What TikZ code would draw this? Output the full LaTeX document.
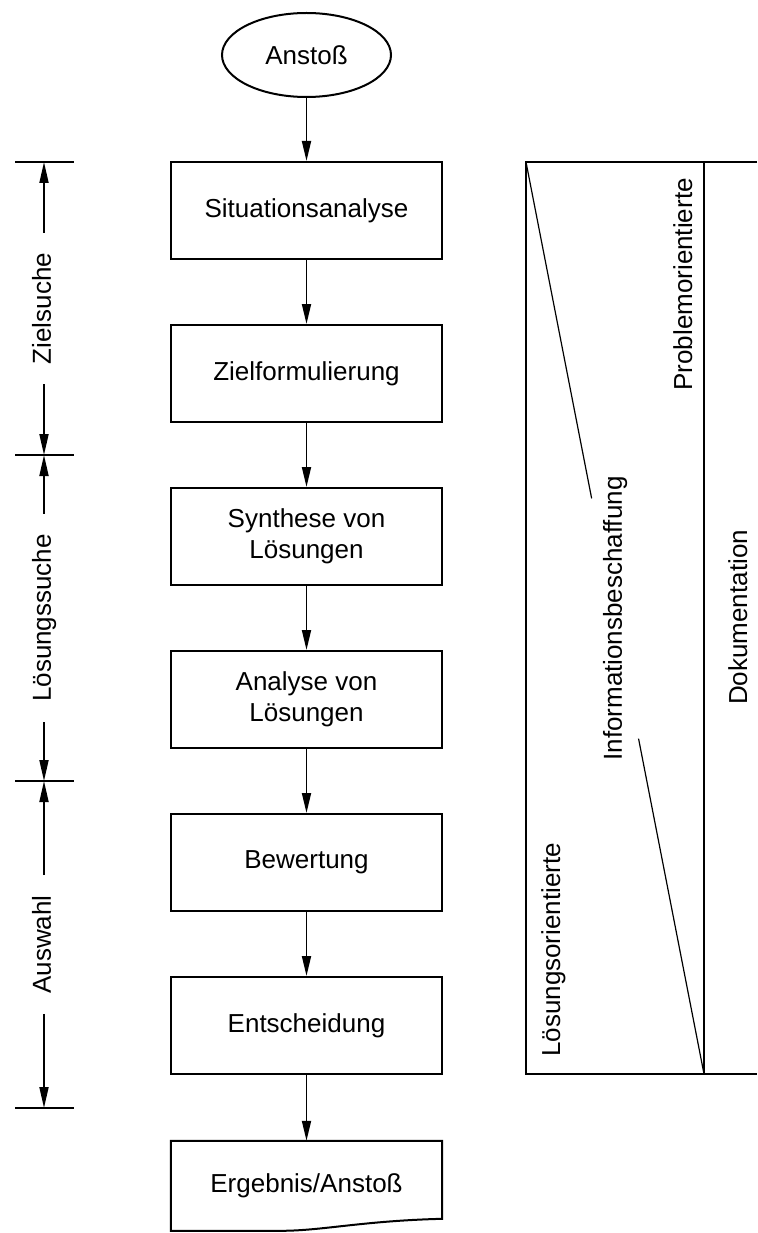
\documentclass[tikz,border=0pt]{standalone}
\usepackage{fontspec}
\setmainfont{Liberation Sans}
\usetikzlibrary{arrows.meta,shapes.geometric,calc}

\begin{document}
\begin{tikzpicture}[x=1pt,y=-1pt,
  every node/.style={font=\fontsize{26}{31}\selectfont},
  flowbox/.style={draw, line width=2pt, minimum width=271pt, minimum height=97pt,
    align=center, inner sep=0pt},
  flow/.style={line width=1.8pt, -{Triangle[length=20pt,width=9pt]}},
  dimarrow/.style={line width=1.8pt, -{Triangle[length=21pt,width=9pt]}},
  ticksline/.style={line width=1.8pt},
  dimlabel/.style={rotate=90, inner xsep=20pt, inner ysep=0pt,
    text height=19pt, text depth=5.5pt},
  framel/.style={line width=1.6pt},
  diag/.style={line width=1.2pt},
  vlabel/.style={rotate=90, inner sep=0pt}
]
\useasboundingbox (0,0) rectangle (757,1233);

% main flow
\node[ellipse, draw, line width=2pt, minimum width=169pt, minimum height=84pt,
  inner sep=0pt] (start) at (306.5,55) {Anstoß};
\node[flowbox] (s1) at (306.5,210.5) {Situationsanalyse};
\node[flowbox] (s2) at (306.5,373.5) {Zielformulierung};
\node[flowbox] (s3) at (306.5,536.5) {Synthese von\\Lösungen};
\node[flowbox] (s4) at (306.5,699.5) {Analyse von\\Lösungen};
\node[flowbox] (s5) at (306.5,862.5) {Bewertung};
\node[flowbox] (s6) at (306.5,1025.5) {Entscheidung};
\node[minimum width=271pt, minimum height=90pt, inner sep=0pt] (erg) at (306.5,1186) {Ergebnis/Anstoß};

% document outline with wavy bottom edge
\draw[line width=2pt] (erg.north west) -- (erg.north east)
  -- ($(erg.north east)+(0,78)$)
  .. controls ($(erg.north east)+(-80,80)$) and ($(erg.north east)+(-120,90)$)
  .. ($(erg.north west)+(110,90)$)
  -- ($(erg.north west)+(0,90)$) -- cycle;

\draw[flow] (start) -- (s1);
\draw[flow] (s1) -- (s2);
\draw[flow] (s2) -- (s3);
\draw[flow] (s3) -- (s4);
\draw[flow] (s4) -- (s5);
\draw[flow] (s5) -- (s6);
\draw[flow] (s6) -- (erg);

% phase dimensions on the left
\coordinate (t1) at (44,162);
\coordinate (t2) at (44,455);
\coordinate (t3) at (44,781);
\coordinate (t4) at (44,1108);
\foreach \t in {t1,t2,t3,t4}
  \draw[ticksline] ($(\t)+(-29,0)$) -- ($(\t)+(30,0)$);

\node[dimlabel] (d1) at (44,308.5) {Zielsuche};
\node[dimlabel] (d2) at (44,618) {Lösungssuche};
\node[dimlabel] (d3) at (44,944.5) {Auswahl};
\draw[dimarrow] (d1) -- (t1);
\draw[dimarrow] (d1) -- (t2);
\draw[dimarrow] (d2) -- (t2);
\draw[dimarrow] (d2) -- (t3);
\draw[dimarrow] (d3) -- (t3);
\draw[dimarrow] (d3) -- (t4);

% information frame on the right
\coordinate (rtl) at (526,162);
\coordinate (rtm) at (704,162);
\coordinate (rtr) at (757,162);
\coordinate (rbl) at (526,1074);
\coordinate (rbm) at (704,1074);
\coordinate (rbr) at (757,1074);
\draw[framel] (rtr) -- (rtl) -- (rbl) -- (rbr);
\draw[framel] (rtm) -- (rbm);

\node[rotate=90, inner xsep=4pt, inner ysep=11pt,
  text height=19pt, text depth=5.5pt] (info) at (615.1,618.5) {Informationsbeschaffung};
\draw[diag] (rtl) -- (info);
\draw[diag] (info) -- (rbm);

\node[vlabel, anchor=base east] (prob) at (692,178) {Problemorientierte};
\node[vlabel, anchor=base west] (loes) at (560,1057) {Lösungsorientierte};
\node[vlabel, anchor=base west] (doku) at (747,705) {Dokumentation};
\end{tikzpicture}
\end{document}
